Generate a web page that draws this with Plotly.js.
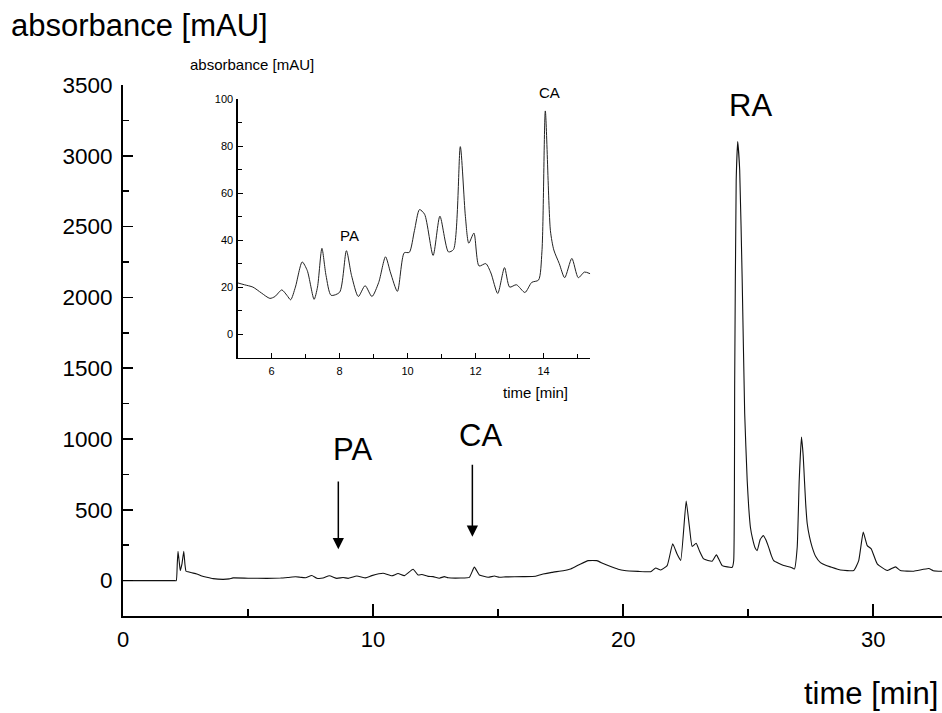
<!DOCTYPE html>
<html>
<head>
<meta charset="utf-8">
<script src="https://cdn.plot.ly/plotly-3.0.1.min.js"></script>
<style>html,body{margin:0;padding:0;background:#fff;}#chart{width:942px;height:713px;}</style>
</head>
<body>
<div id="chart"></div>
<script>
// Main chromatogram (time [min], absorbance [mAU])
const mainTime = [0,1.0,2.05,2.13,2.17,2.2,2.25,2.29,2.36,2.43,2.48,2.52,2.6,2.75,2.95,3.15,3.35,3.6,4.0,4.25,4.4,5.0,5.75,6.3,6.6,6.9,7.08,7.3,7.55,7.75,8.0,8.25,8.55,8.8,9.0,9.35,9.7,9.95,10.4,10.75,11.0,11.25,11.6,11.8,11.95,12.2,12.4,12.65,12.85,13.0,13.5,13.85,14.05,14.25,14.6,14.85,15.05,15.3,16.0,16.5,16.8,17.15,17.6,17.9,18.3,18.6,18.95,19.2,19.5,19.8,20.05,20.6,21.1,21.3,21.5,21.76,21.98,22.15,22.3,22.52,22.65,22.76,22.92,23.05,23.22,23.56,23.73,23.96,24.36,24.42,24.46,24.52,24.58,24.66,24.76,24.86,24.96,25.02,25.09,25.17,25.28,25.36,25.48,25.6,25.7,25.82,25.92,26.02,26.42,26.7,26.85,26.96,27.04,27.13,27.2,27.25,27.3,27.36,27.45,27.56,27.7,27.89,28.1,28.29,28.69,29.22,29.42,29.6,29.76,29.92,30.16,30.56,30.89,31.09,31.62,32.22,32.4,32.75];
const mainAbs  = [0,0,0,0,120,207,130,71,120,207,110,66,62,55,47,33,24,14,9,12,19,17,16,18,22,27,24,20,36,17,18,34,16,22,16,33,19,35,52,34,50,35,80,40,43,30,28,17,28,20,18,23,95,40,24,32,24,26,28,31,46,58,70,82,118,141,141,120,99,80,71,65,63,89,75,106,260,190,142,561,380,241,264,210,153,137,182,106,94,140,1414,2829,3100,2900,2122,1180,707,520,375,300,230,212,290,318,290,235,180,141,106,95,82,235,707,1013,880,707,540,403,310,235,170,127,108,97,75,71,141,342,247,224,118,71,97,71,66,85,70,66];

// Inset: enlarged 5–15.4 min section
const insetTime = [5.0,5.2,5.45,5.7,5.95,6.1,6.3,6.45,6.56,6.7,6.9,7.05,7.25,7.35,7.48,7.6,7.75,8.0,8.2,8.35,8.55,8.75,8.95,9.15,9.35,9.5,9.7,9.9,10.05,10.2,10.35,10.5,10.75,10.95,11.2,11.35,11.55,11.7,11.8,11.95,12.1,12.3,12.45,12.65,12.85,13.0,13.2,13.45,13.65,13.85,13.95,14.05,14.2,14.3,14.46,14.62,14.83,15.02,15.2,15.37];
const insetAbs  = [21.8,21,20,17.5,15.2,16,18.8,16.5,14.6,20,30.7,27,14.8,20,36.5,25,16.5,17.8,35.5,25,16,20.6,16,22,32.9,26,18.2,34.6,34.8,44,53,51,33.5,50.2,35,36,79.8,50,38.7,43,29,30,26,17.3,28.3,20,21,17.7,22,23,35,95,44,35.8,30,24,32.2,24,26.4,25.7];

// Tick settings
const mainXTicks = [0,10,20,30];
const mainYTicks = [0,500,1000,1500,2000,2500,3000,3500];
const insetXTicks = [6,8,10,12,14];
const insetYTicks = [0,20,40,60,80,100];

// page pixel -> paper helper (main plot area: x 123..942, y 616..85)
const L = 123, R = 942, T = 85, B = 616;
const px = x => (x - L) / (R - L);
const py = y => (B - y) / (B - T);

const FONT = 'Liberation Sans, Arial, Helvetica, sans-serif';

const traces = [
  {x: mainTime, y: mainAbs, type: 'scatter', mode: 'lines', xaxis: 'x', yaxis: 'y',
   line: {color: '#111', width: 1.1, shape: 'spline', smoothing: 0.4}, hoverinfo: 'skip'},
  {x: insetTime, y: insetAbs, type: 'scatter', mode: 'lines', xaxis: 'x2', yaxis: 'y2',
   line: {color: '#222', width: 1, shape: 'spline', smoothing: 0.7}, hoverinfo: 'skip'}
];

const axBase = {showgrid: false, zeroline: false, showline: true, linecolor: '#000',
  ticks: 'inside', tickcolor: '#000', tickmode: 'array', fixedrange: true};

const ann = (text, x, y, size, extra) => Object.assign({text: text, xref: 'paper', yref: 'paper',
  x: px(x), y: py(y), xanchor: 'center', yanchor: 'middle', showarrow: false,
  font: {size: size, family: FONT, color: '#000'}}, extra || {});

const layout = {
  width: 942, height: 713,
  margin: {l: L, r: 942 - R, t: T, b: 713 - B, pad: 0},
  paper_bgcolor: '#fff', plot_bgcolor: 'rgba(0,0,0,0)',
  showlegend: false,
  font: {family: FONT, color: '#000'},
  xaxis: Object.assign({}, axBase, {
    domain: [0, 1], range: [0, 32.75], anchor: 'y',
    tickvals: mainXTicks, ticktext: mainXTicks.map(String),
    linewidth: 2, ticklen: 12, tickwidth: 2, tickfont: {size: 22, family: FONT},
    ticklabelstandoff: 3,
    minor: {tickvals: [5, 15, 25], ticks: 'inside', ticklen: 7, tickwidth: 1.5, tickcolor: '#000'}
  }),
  yaxis: Object.assign({}, axBase, {
    domain: [0, 1], range: [-250, 3500], anchor: 'x',
    tickvals: mainYTicks, ticktext: mainYTicks.map(String),
    linewidth: 2, ticklen: 10, tickwidth: 1.5, tickfont: {size: 22.5, family: FONT},
    ticklabelstandoff: 4,
    minor: {tickvals: [250, 750, 1250, 1750, 2250, 2750, 3250], ticks: 'inside', ticklen: 6, tickwidth: 1.5, tickcolor: '#000'}
  }),
  xaxis2: Object.assign({}, axBase, {
    domain: [px(237.6), px(590.2)], range: [5, 15.37], anchor: 'y2',
    tickvals: insetXTicks, ticktext: insetXTicks.map(String),
    linewidth: 1.2, ticklen: 5, tickwidth: 1, tickfont: {size: 11, family: FONT},
    ticklabelstandoff: 3,
    minor: {tickvals: [7, 9, 11, 13, 15], ticks: 'inside', ticklen: 4, tickwidth: 1, tickcolor: '#000'}
  }),
  yaxis2: Object.assign({}, axBase, {
    domain: [py(357.8), py(99.2)], range: [-10.1, 100], anchor: 'x2',
    tickvals: insetYTicks, ticktext: insetYTicks.map(String),
    linewidth: 1.2, ticklen: 5, tickwidth: 1, tickfont: {size: 11, family: FONT},
    ticklabelstandoff: 1,
    minor: {tickvals: [-10, 10, 30, 50, 70, 90], ticks: 'inside', ticklen: 4, tickwidth: 1, tickcolor: '#000'}
  }),
  annotations: [
    ann('absorbance [mAU]', 9, 26, 31, {xanchor: 'left'}),
    ann('time [min]', 940, 693, 31, {xanchor: 'right'}),
    {text: 'RA', xref: 'x', yref: 'y', x: 25.08, y: 3355, xanchor: 'center', yanchor: 'middle', showarrow: false, font: {size: 31, family: FONT}},
    {text: 'PA', xref: 'x', yref: 'y', x: 9.16, y: 929, xanchor: 'center', yanchor: 'middle', showarrow: false, font: {size: 31, family: FONT}},
    {text: 'CA', xref: 'x', yref: 'y', x: 14.3, y: 1028, xanchor: 'center', yanchor: 'middle', showarrow: false, font: {size: 31, family: FONT}},
    {text: '', xref: 'x', yref: 'y', x: 8.61, y: 221, axref: 'x', ayref: 'y', ax: 8.61, ay: 710,
     showarrow: true, arrowhead: 2, arrowsize: 1.5, arrowwidth: 1.5, arrowcolor: '#000', standoff: 0},
    {text: '', xref: 'x', yref: 'y', x: 13.97, y: 310, axref: 'x', ayref: 'y', ax: 13.97, ay: 828,
     showarrow: true, arrowhead: 2, arrowsize: 1.5, arrowwidth: 1.5, arrowcolor: '#000', standoff: 0},
    ann('absorbance [mAU]', 187.5, 64, 15, {xanchor: 'left'}),
    ann('time [min]', 570, 392, 15, {xanchor: 'right'}),
    ann('PA', 349, 236, 15),
    ann('CA', 549, 92, 15)
  ]
};

Plotly.newPlot('chart', traces, layout, {staticPlot: true, displayModeBar: false});
</script>
</body>
</html>
